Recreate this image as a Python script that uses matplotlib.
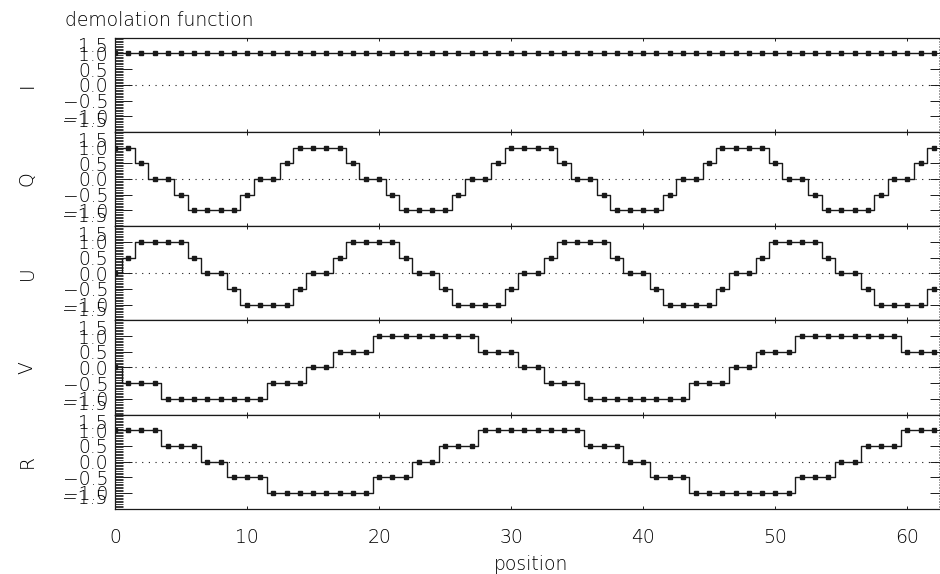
import numpy as np
import matplotlib
matplotlib.use("Agg")
import matplotlib.pyplot as plt
from matplotlib.ticker import MultipleLocator
from matplotlib.transforms import blended_transform_factory

# demodulation values sampled at each position (0..62)
position = np.arange(63)

I_vals = [
    1, 1, 1, 1, 1, 1, 1, 1, 1, 1, 1, 1, 1, 1, 1, 1,
    1, 1, 1, 1, 1, 1, 1, 1, 1, 1, 1, 1, 1, 1, 1, 1,
    1, 1, 1, 1, 1, 1, 1, 1, 1, 1, 1, 1, 1, 1, 1, 1,
    1, 1, 1, 1, 1, 1, 1, 1, 1, 1, 1, 1, 1, 1, 1,
]
Q_vals = [
    1, 1, 0.5, 0, 0, -0.5, -1, -1, -1, -1, -0.5, 0, 0, 0.5, 1, 1,
    1, 1, 0.5, 0, 0, -0.5, -1, -1, -1, -1, -0.5, 0, 0, 0.5, 1, 1,
    1, 1, 0.5, 0, 0, -0.5, -1, -1, -1, -1, -0.5, 0, 0, 0.5, 1, 1,
    1, 1, 0.5, 0, 0, -0.5, -1, -1, -1, -1, -0.5, 0, 0, 0.5, 1,
]
U_vals = [
    0, 0.5, 1, 1, 1, 1, 0.5, 0, 0, -0.5, -1, -1, -1, -1, -0.5, 0,
    0, 0.5, 1, 1, 1, 1, 0.5, 0, 0, -0.5, -1, -1, -1, -1, -0.5, 0,
    0, 0.5, 1, 1, 1, 1, 0.5, 0, 0, -0.5, -1, -1, -1, -1, -0.5, 0,
    0, 0.5, 1, 1, 1, 1, 0.5, 0, 0, -0.5, -1, -1, -1, -1, -0.5,
]
V_vals = [
    0, -0.5, -0.5, -0.5, -1, -1, -1, -1, -1, -1, -1, -1,
    -0.5, -0.5, -0.5, 0, 0, 0.5, 0.5, 0.5,
    1, 1, 1, 1, 1, 1, 1, 1,
    0.5, 0.5, 0.5, 0, 0, -0.5, -0.5, -0.5,
    -1, -1, -1, -1, -1, -1, -1, -1,
    -0.5, -0.5, -0.5, 0, 0, 0.5, 0.5, 0.5,
    1, 1, 1, 1, 1, 1, 1, 1,
    0.5, 0.5, 0.5,
]
R_vals = [
    1, 1, 1, 1, 0.5, 0.5, 0.5, 0,
    0, -0.5, -0.5, -0.5, -1, -1, -1, -1,
    -1, -1, -1, -1, -0.5, -0.5, -0.5, 0,
    0, 0.5, 0.5, 0.5, 1, 1, 1, 1,
    1, 1, 1, 1, 0.5, 0.5, 0.5, 0,
    0, -0.5, -0.5, -0.5, -1, -1, -1, -1,
    -1, -1, -1, -1, -0.5, -0.5, -0.5, 0,
    0, 0.5, 0.5, 0.5, 1, 1, 1,
]

names = ["I", "Q", "U", "V", "R"]
series = [I_vals, Q_vals, U_vals, V_vals, R_vals]
ytick_vals = [-1.0, -0.5, 0.0, 0.5, 1.0]
xtick_vals = [0, 10, 20, 30, 40, 50, 60]

plt.rcParams["font.family"] = "DejaVu Sans"
plt.rcParams["font.weight"] = "light"
plt.rcParams["axes.labelweight"] = "light"
fs = 13.5
ink = "#1a1a1a"

W, H = 940, 574
fig = plt.figure(figsize=(W / 100, H / 100), dpi=100)

left, right = 115, 947
top, bottom = 37.7, 508.7
ph = (bottom - top) / 5

for k, (name, vals) in enumerate(zip(names, series)):
    y0 = top + ph * k
    ax = fig.add_axes([left / W, 1 - (y0 + ph) / H, (right - left) / W, ph / H])
    ax.plot(position, vals, drawstyle="steps-mid", color=ink, lw=1.0)
    ax.plot(position, vals, ls="none", marker="s", ms=2.2, color=ink)
    ax.axhline(0, color=ink, lw=0.8, ls=(0, (1, 5)))

    ax.set_xlim(0, 63)
    ax.set_ylim(-1.5, 1.5)
    for sp in ax.spines.values():
        sp.set_linewidth(0.9)
        sp.set_color(ink)

    ax.tick_params(axis="x", which="major", direction="in", top=True,
                   length=2, width=0.7, color=ink)
    ax.set_xticks(xtick_vals)
    if k < 4:
        ax.set_xticklabels([])
    else:
        ax.set_xticklabels([str(v) for v in xtick_vals], fontsize=fs,
                           fontweight="light")
        ax.tick_params(axis="x", pad=14)
        ax.set_xlabel("position", fontsize=fs, fontweight="light",
                      labelpad=6)

    ax.set_yticks(ytick_vals)
    ax.set_yticklabels([f"{v:.1f}".replace("-", "\u2212") for v in ytick_vals],
                       fontsize=fs, fontweight="light")
    ax.yaxis.set_minor_locator(MultipleLocator(0.05))
    ax.tick_params(axis="y", which="major", direction="in", right=True,
                   length=12, width=0.7, color=ink, pad=5)
    ax.tick_params(axis="y", which="minor", direction="in", right=True,
                   length=6, width=0.6, color=ink)

    # end labels squeezed inside the panel
    tr = blended_transform_factory(ax.transAxes, ax.transData)
    ax.text(-0.0085, 1.21, "1.5", transform=tr, ha="right", va="center",
            fontsize=fs, fontweight="light")
    ax.text(-0.0085, -1.18, "\u22121.5", transform=tr, ha="right",
            va="center", fontsize=fs, fontweight="light")

    trl = blended_transform_factory(fig.transFigure, ax.transAxes)
    fig.text(27 / W, 0.5, name, transform=trl, rotation=90, ha="center",
             va="center", fontsize=fs, fontweight="light")

fig.text(65 / W, 1 - 21 / H, "demolation function", ha="left", va="center",
         fontsize=fs, fontweight="light")

fig.savefig("out.png", dpi=100)
